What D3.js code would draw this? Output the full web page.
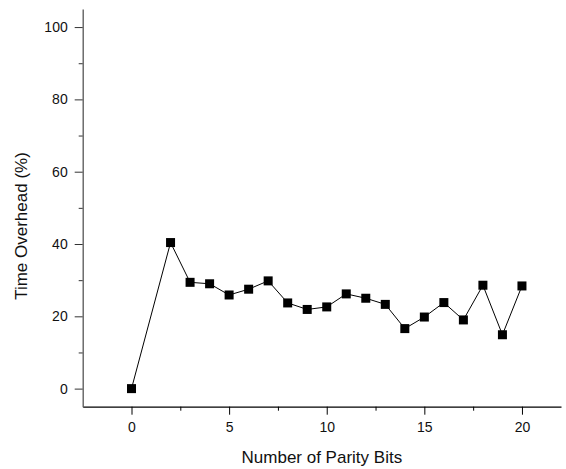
<!DOCTYPE html>
<html>
<head>
<meta charset="utf-8">
<script src="https://cdn.jsdelivr.net/npm/d3@7"></script>
<style>
  body { margin: 0; background: #fff; }
  svg { display: block; font-family: "Liberation Sans", Arial, sans-serif; }
</style>
</head>
<body>
<div id="chart"></div>
<script>
// data
const parityBits = [0, 2, 3, 4, 5, 6, 7, 8, 9, 10, 11, 12, 13, 14, 15, 16, 17, 18, 19, 20];
const overhead = [0, 40.4, 29.4, 29.0, 25.9, 27.5, 29.8, 23.7, 21.9, 22.6, 26.2, 25.0, 23.3, 16.6, 19.8, 23.8, 19.0, 28.6, 14.9, 28.4];
const xMajor = [0, 5, 10, 15, 20];
const xMinor = [2.5, 7.5, 12.5, 17.5];
const yMajor = [0, 20, 40, 60, 80, 100];
const yMinor = [10, 30, 50, 70, 90];

const data = parityBits.map((b, i) => ({bits: b, value: overhead[i]}));

// plot box
var width = 566, height = 469;
var box = {left: 82.7, right: 561, top: 9, bottom: 406.7};
var fontFamily = "'Liberation Sans', Arial, sans-serif";

const svg = d3.select("#chart")
    .append("svg")
    .attr("width", width)
    .attr("height", height);

const x = d3.scaleLinear().domain([-2.5, 22]).range([box.left, box.right]);
const y = d3.scaleLinear().domain([-5, 105]).range([box.bottom, box.top]);

// X axis
const gx = svg.append("g")
    .attr("transform", "translate(0," + box.bottom + ")")
    .call(d3.axisBottom(x).tickValues(xMajor).tickSize(8).tickPadding(7).tickSizeOuter(0))
    .attr("font-family", fontFamily)
    .attr("font-size", 14);
gx.select(".domain").attr("stroke", "#000").attr("stroke-width", 1.3);
gx.selectAll(".tick line").attr("stroke", "#000").attr("stroke-width", 1);
gx.selectAll("text").attr("fill", "#111");
svg.append("g")
    .selectAll("line")
    .data(xMinor)
    .enter()
    .append("line")
    .attr("x1", (d) => x(d) + 0.5)
    .attr("x2", (d) => x(d) + 0.5)
    .attr("y1", box.bottom)
    .attr("y2", box.bottom + 4)
    .attr("stroke", "#000");

// Y axis
const gy = svg.append("g")
    .attr("transform", "translate(" + box.left + ",0)")
    .call(d3.axisLeft(y).tickValues(yMajor).tickSize(8).tickPadding(7).tickSizeOuter(0))
    .attr("font-family", fontFamily)
    .attr("font-size", 14);
gy.select(".domain").attr("stroke", "#555").attr("stroke-width", 1.3);
gy.selectAll(".tick line").attr("stroke", "#333");
gy.selectAll("text").attr("fill", "#111");
svg.append("g")
    .selectAll("line")
    .data(yMinor)
    .enter()
    .append("line")
    .attr("x1", box.left)
    .attr("x2", box.left - 4)
    .attr("y1", (d) => y(d) + 0.5)
    .attr("y2", (d) => y(d) + 0.5)
    .attr("stroke", "#333");

// axis titles
svg.append("text")
    .attr("x", (box.left + box.right) / 2)
    .attr("y", 463)
    .attr("text-anchor", "middle")
    .attr("font-size", 17)
    .attr("fill", "#111")
    .text("Number of Parity Bits");

svg.append("text")
    .attr("transform", "translate(27,226) rotate(-90)")
    .attr("text-anchor", "middle")
    .attr("font-size", 17)
    .attr("fill", "#111")
    .text("Time Overhead (%)");

// line + markers
const line = d3.line()
    .x((d) => x(d.bits))
    .y((d) => y(d.value));

svg.append("path")
    .datum(data)
    .attr("d", line)
    .attr("fill", "none")
    .attr("stroke", "#000")
    .attr("stroke-width", 1);

svg.append("g")
    .selectAll("rect")
    .data(data)
    .enter()
    .append("rect")
    .attr("x", (d) => x(d.bits) - 4.5)
    .attr("y", (d) => y(d.value) - 4.5)
    .attr("width", 9)
    .attr("height", 9)
    .attr("fill", "#000");
</script>
</body>
</html>
